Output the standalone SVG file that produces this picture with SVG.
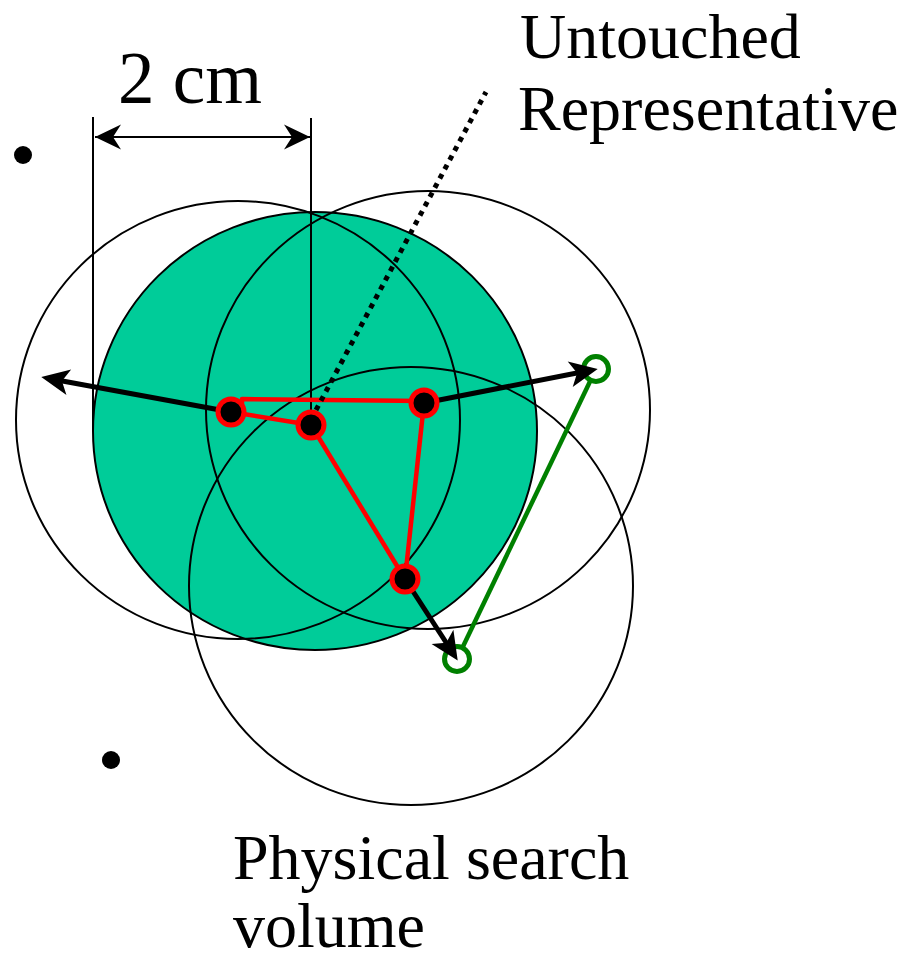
<svg xmlns="http://www.w3.org/2000/svg" width="905" height="961" viewBox="0 0 905 961">
  <style>
    .txt { font-family: "Liberation Serif", "Times New Roman", serif; font-size: 64px; fill: #000; }
    .outline { fill: none; stroke: #000; stroke-width: 2; }
    .dim { stroke: #000; stroke-width: 2; fill: none; }
    .red { stroke: #ff0000; stroke-width: 4.5; fill: none; stroke-linejoin: round; }
    .node { fill: #000; stroke: #ff0000; stroke-width: 5; }
    .gnode { fill: #fff; stroke: #008000; stroke-width: 5; }
    .thick { stroke: #000; stroke-width: 5; fill: none; }
  </style>
  <defs>
    <marker id="dimArrow" viewBox="-28 -14 29 28" refX="0" refY="0" markerWidth="29" markerHeight="28" markerUnits="userSpaceOnUse" orient="auto-start-reverse">
      <path d="M0,0 L-26,-12.5 L-18,0 L-26,12.5 Z" fill="#000"/>
    </marker>
    <marker id="bigArrow" viewBox="-14 -15 31 30" refX="0" refY="0" markerWidth="31" markerHeight="30" markerUnits="userSpaceOnUse" orient="auto">
      <path d="M16,0 L-12,-13 L-5,0 L-12,13 Z" fill="#000"/>
    </marker>
  </defs>

  <g id="search-volume">
    <ellipse cx="315" cy="431" rx="222" ry="219" fill="#00cc99" stroke="#000" stroke-width="2"/>
  </g>
  <g id="circles">
    <ellipse id="circle-left" class="outline" cx="238" cy="420" rx="222" ry="219"/>
    <ellipse id="circle-upper-right" class="outline" cx="428" cy="410" rx="222" ry="219"/>
    <ellipse id="circle-bottom" class="outline" cx="411" cy="586" rx="222" ry="219"/>
  </g>

  <g id="dimension">
    <line class="dim" x1="93" y1="117" x2="93" y2="431"/>
    <line class="dim" x1="311" y1="118" x2="311" y2="425"/>
    <line class="dim" x1="95" y1="137" x2="310" y2="137" marker-start="url(#dimArrow)" marker-end="url(#dimArrow)"/>
    <text class="txt" x="118" y="103" style="font-size:73px">2 cm</text>
  </g>

  <g id="stray-points">
    <circle cx="23" cy="155" r="9" fill="#000"/>
    <circle cx="111" cy="760" r="9" fill="#000"/>
  </g>

  <g id="connectors">
    <line x1="596" y1="369" x2="457" y2="659" stroke="#008000" stroke-width="4.5"/>
    <path class="red" d="M242,405 L242,399 L424,401"/>
    <line class="red" x1="231" y1="412" x2="311" y2="425"/>
    <line class="red" x1="311" y1="425" x2="405" y2="579"/>
    <line class="red" x1="424" y1="403" x2="405" y2="579"/>
    <line x1="316" y1="410" x2="486" y2="92" stroke="#000" stroke-width="5" stroke-dasharray="5 5.5"/>
  </g>

  <g id="node-green-right"><circle class="gnode" cx="596" cy="369" r="12.5"/></g>
  <g id="node-green-bottom"><circle class="gnode" cx="457" cy="659" r="12.5"/></g>

  <g id="arrows">
    <line class="thick" x1="231" y1="412" x2="57" y2="380" marker-end="url(#bigArrow)"/>
    <line class="thick" x1="424" y1="403" x2="582" y2="372" marker-end="url(#bigArrow)"/>
    <line class="thick" x1="405" y1="579" x2="449" y2="647" marker-end="url(#bigArrow)"/>
  </g>

  <g id="node-1"><circle class="node" cx="231" cy="412" r="13"/></g>
  <g id="node-2"><circle class="node" cx="311" cy="425" r="13"/></g>
  <g id="node-3"><circle class="node" cx="424" cy="403" r="13"/></g>
  <g id="node-4"><circle class="node" cx="405" cy="579" r="13"/></g>

  <g id="label-untouched">
    <text class="txt" x="520" y="58">Untouched</text>
    <text class="txt" x="518" y="130">Representative</text>
  </g>
  <g id="label-physical">
    <text class="txt" x="233" y="879">Physical search</text>
    <text class="txt" x="233" y="947">volume</text>
  </g>
</svg>
